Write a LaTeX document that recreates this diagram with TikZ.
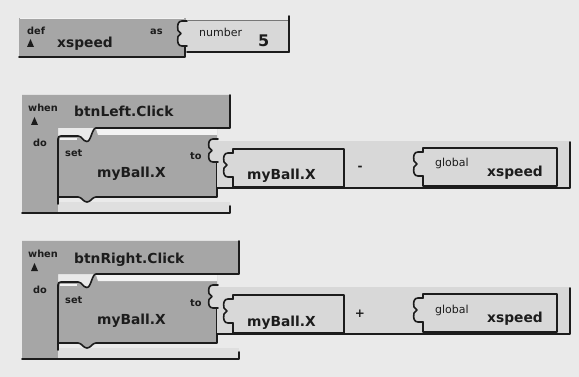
\documentclass[tikz,border=0pt]{standalone}
\usepackage{fontspec}
\setmainfont{DejaVu Sans}
\definecolor{bgc}{HTML}{EAEAEA}
\definecolor{grayblk}{HTML}{A6A6A6}
\definecolor{lightblk}{HTML}{D8D8D8}
\definecolor{armc}{HTML}{DFDFDF}
\definecolor{outl}{HTML}{1C1C1C}
\definecolor{hilite}{HTML}{F3F3F3}
\tikzset{
 gblk/.style={fill=grayblk},
 lblk/.style={fill=lightblk},
 dk/.style={draw=outl,line width=1.6pt,line cap=round,line join=round},
 bigt/.style={font=\fontsize{13.8}{14}\selectfont\bfseries,inner sep=0pt,anchor=base west,text=outl},
 kw/.style={font=\fontsize{9.8}{10}\selectfont\bfseries,inner sep=0pt,anchor=base west,text=outl},
 lbl/.style={font=\fontsize{11}{11}\selectfont,inner sep=0pt,anchor=base west,text=outl},
 opt/.style={font=\fontsize{12}{12}\selectfont\bfseries,inner sep=0pt,anchor=center,text=outl},
}
% plug: right side at x=#1, top y=#2, height #3
\newcommand\plugshape[3]{(#1,#2) -- ({#1-5},#2) .. controls ({#1-9},#2) and ({#1-10},{#2+4}) .. ({#1-9},{#2+#3/2-3}) -- ({#1-6},{#2+#3/2}) -- ({#1-9},{#2+#3/2+3}) .. controls ({#1-10},{#2+#3-4}) and ({#1-9},{#2+#3}) .. ({#1-5},{#2+#3}) -- (#1,{#2+#3})}
\newcommand\plug[3]{\fill[lblk] \plugshape{#1}{#2}{#3} -- cycle; \draw[dk] \plugshape{#1}{#2}{#3};}
\newcommand\tri[2]{\fill[outl] (#1,#2) -- ({#1+7},#2) -- ({#1+3.5},{#2-8}) -- cycle;}
% event row: #1 prefix, #2 shift, #3 header right x, #4 label, #5 operator
\newcommand\eventrow[5]{%
\begin{scope}[yshift=-#2pt]
 % C shaped event block
 \fill[gblk] (22,95) -- (#3,95) -- (#3,128) -- (58,128) -- (58,204) -- (#3,204) -- (#3,213) -- (22,213) -- cycle;
 \fill[armc] (58,202) rectangle (#3,212);
 % set block
 \fill[gblk] (58,137) -- (78,137) .. controls (82,137) and (83,141.5) .. (87,141.5) .. controls (91,141.5) and (92,129) .. (96,129) -- (217,129) -- (217,197) -- (96,197) .. controls (92,197) and (91,202) .. (87,202) .. controls (83,202) and (82,197) .. (78,197) -- (58,197) -- cycle;
 \fill[hilite] (96,129) -- (217,129) -- (217,135) -- (98,135) -- cycle;
 \draw[hilite,line width=1.2pt] (60,139) -- (77,139);
 \draw[dk] (#3,95) -- (#3,128) -- (96,128) .. controls (92,128) and (91,141.5) .. (87,141.5) .. controls (83,141.5) and (82,136) .. (78,136) -- (61,136) .. controls (59,136) and (58,137) .. (58,139) -- (58,204);
 \draw[dk] (58,197) -- (78,197) .. controls (82,197) and (83,202) .. (87,202) .. controls (91,202) and (92,197) .. (96,197) -- (217,197) -- (217,162);
 \draw[dk] (22,213) -- (#3,213) -- (#3,206);
 % arithmetic block
 \fill[lblk] (217,141) rectangle (570,188);
 \plug{218}{139}{23}
 \draw[dk] (217,188) -- (570,188) -- (570,142);
 % getter block
 \fill[lblk] (233,149) rectangle (344,187);
 \plug{233}{153}{24}
 \draw[dk] (233,153) -- (233,149) -- (344,149) -- (344,187) -- (233,187) -- (233,177);
 % global block
 \fill[lblk] (423,148) rectangle (557,186);
 \plug{423}{152}{24}
 \draw[dk] (423,152) -- (423,148) -- (557,148) -- (557,186) -- (423,186) -- (423,176);
 % texts
 \tri{31}{125}
 \node[kw] (#1when) at (28,112) {when};
 \node[kw] (#1do) at (33,147) {do};
 \node[bigt] (#1evt) at (74,117) {#4};
 \node[kw] (#1set) at (65,157) {set};
 \node[bigt] (#1setv) at (97,178) {myBall.X};
 \node[kw] (#1to) at (190,160) {to};
 \node[bigt] (#1get) at (247,180) {myBall.X};
 \node[opt] (#1op) at (360,168) {#5};
 \node[lbl] (#1glob) at (435,167) {global};
 \node[bigt] (#1xs) at (487,177) {xspeed};
\end{scope}}
\begin{document}
\begin{tikzpicture}[x=1pt,y=-1pt]
\fill[bgc] (0,0) rectangle (579,377);
\useasboundingbox (0,0) rectangle (579,377);
% def block
\fill[gblk] (19,18) rectangle (186,57);
\fill[lblk] (186,20) rectangle (288,52);
\plug{187}{21}{25}
\draw[outl!60,line width=0.8pt] (187,20) -- (288,20);
\draw[dk] (19,57) -- (185,57) -- (185,47);
\draw[dk] (187,52) -- (289,52);
\draw[dk] (289,16) -- (289,52);
\draw[hilite,line width=1pt] (20,19) -- (184,19);
\tri{27}{47}
\node[kw] (def) at (27,35) {def};
\node[bigt] (defname) at (57,48) {xspeed};
\node[kw] (as) at (150,35) {as};
\node[lbl] (number) at (199,37) {number};
\node[bigt,font=\fontsize{16}{16}\selectfont\bfseries] (five) at (258,47) {5};
% event rows
\eventrow{l}{0}{230}{btnLeft.Click}{-}
\eventrow{r}{146}{239}{btnRight.Click}{+}
\end{tikzpicture}
\end{document}
